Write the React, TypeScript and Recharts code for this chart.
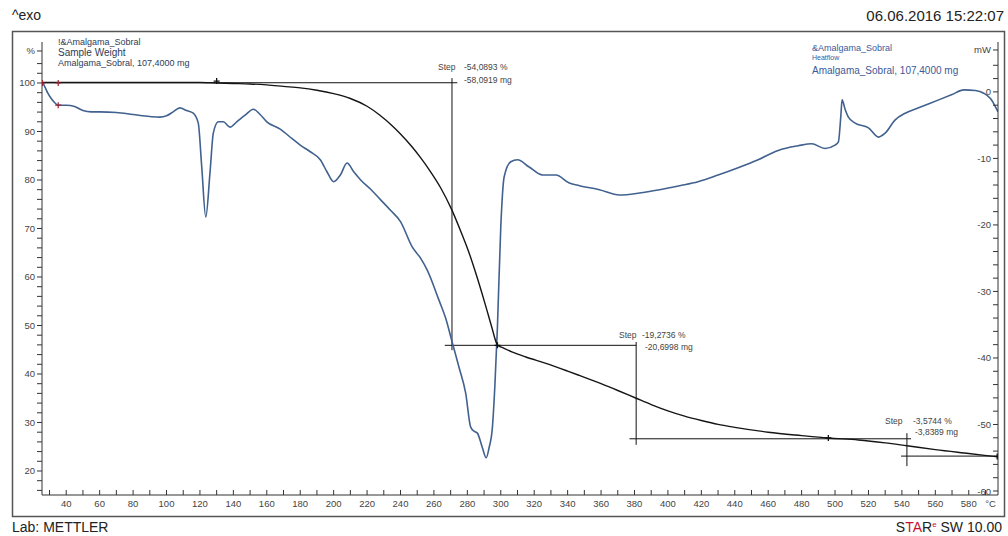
import React from 'react';
import { ComposedChart, Line, XAxis, YAxis, ReferenceLine, Scatter } from 'recharts';

// TGA sample weight (%) vs temperature (°C)
const tgaTemp = [25.5, 40, 60, 80, 100, 120, 130, 140, 150, 160, 170, 180, 190, 200, 210, 220, 227.5, 235, 240, 247, 252, 257, 264, 270.5, 277, 281, 285.5, 291, 294.5, 298, 302, 307, 315, 327, 340, 347, 360, 370, 381, 390, 400, 410, 420, 430, 440, 460, 480, 496, 514, 530, 543, 560, 580, 597.5];
const tgaWeight = [100.1, 100.1, 100.1, 100.1, 100.1, 100.1, 100.0, 99.9, 99.8, 99.6, 99.3, 99.0, 98.5, 97.8, 96.8, 95.2, 93.4, 91.2, 89.5, 86.8, 84.6, 82.2, 78.4, 74.0, 68.6, 65.0, 60.3, 54.0, 49.8, 46.0, 45.3, 44.5, 43.5, 42.2, 40.6, 39.7, 38.0, 36.6, 35.0, 33.7, 32.4, 31.3, 30.4, 29.6, 29.0, 28.0, 27.3, 26.8, 26.4, 25.8, 25.2, 24.4, 23.6, 22.9];

// DSC heat flow (mW) vs temperature (°C)
const dscTemp = [25.7, 27.5, 29, 31, 33, 35, 40, 45, 50, 55, 60, 70, 80, 90, 96, 100, 104, 108, 112, 116, 119, 121, 123.5, 126, 128, 131, 134, 138, 142, 147, 152, 156, 160, 168, 175, 180, 186, 192, 196, 200, 204, 208, 212, 216, 222, 228, 234, 240, 247, 252, 256, 263, 267, 271, 275, 279, 282, 284, 286, 289, 291.3, 293, 295, 296.5, 298, 300, 302, 306, 310, 317, 325, 333, 341, 347, 359, 371, 383, 395, 407, 418, 430, 442, 454, 466, 478, 486, 494, 500, 502, 503.5, 504.2, 506, 508, 512, 520, 526, 530, 536, 542, 550, 562, 570, 577, 584, 589, 593, 597.5];
const dscFlow = [1.5, 0.6, -0.2, -1.0, -1.6, -2.0, -2.0, -2.2, -2.8, -3.0, -3.0, -3.1, -3.4, -3.7, -3.8, -3.6, -3.0, -2.4, -2.8, -3.2, -4.7, -11, -18.8, -12.2, -6.2, -4.5, -4.5, -5.3, -4.5, -3.5, -2.6, -3.4, -4.5, -5.6, -7.0, -8.0, -9.0, -10.2, -12, -13.5, -12.5, -10.7, -12, -13.2, -14.6, -16.2, -17.8, -19.5, -23.3, -25, -26.8, -31.3, -34, -37.7, -41.4, -45.3, -50.4, -51.0, -51.3, -53.5, -55.0, -53.5, -50.4, -44, -35.3, -20.3, -12.8, -10.5, -10.2, -11.3, -12.5, -12.5, -13.7, -14.1, -14.7, -15.5, -15.2, -14.7, -14.1, -13.5, -12.5, -11.4, -10.2, -8.8, -8.1, -7.8, -8.5, -8.0, -7.5, -3.5, -1.2, -2.6, -3.8, -4.7, -5.4, -6.8, -6.2, -4.2, -3.2, -2.4, -1.2, -0.4, 0.3, 0.2, -0.2, -1.0, -3.0];

// Step evaluations (left axis, %)
const stepLevels = [100.05, 45.91, 26.64, 23.07];
const stepTemps = [270.8, 381, 543];

// Evaluation markers
const blackMarks = [{ t: 130, v: 100.4 }, { t: 298, v: 45.9 }, { t: 496, v: 26.8 }, { t: 597, v: 23.0 }];
const redMarksLeft = [{ t: 25.7, v: 100.0 }, { t: 35.2, v: 100.0 }];
const redMarksRight = [{ t: 35.2, v: -2.0 }];

// Tick values
const UNIT_TICK = 593;
const xTicks: number[] = [];
for (let t = 30; t <= 590; t += 10) xTicks.push(t);
xTicks.push(UNIT_TICK);
const leftTicks: number[] = [];
for (let v = 16; v <= 104; v += 2) leftTicks.push(v);
const PCT_TICK = 106.6;
leftTicks.push(PCT_TICK);
const rightTicks: number[] = [];
for (let v = -60; v <= 4; v += 2) rightTicks.push(v);
const MW_TICK = 6.3;
rightTicks.push(MW_TICK);

const tgaData = tgaTemp.map((t, i) => ({ t, v: tgaWeight[i] }));
const dscData = dscTemp.map((t, i) => ({ t, v: dscFlow[i] }));

const X_DOMAIN: [number, number] = [25.5, 597.5];
const L_DOMAIN: [number, number] = [15.05, 108.45];
const R_DOMAIN: [number, number] = [-60.6, 7.5];

const FONT = 'Liberation Sans, Arial, sans-serif';
const tickFont = { fontFamily: FONT, fontSize: 9.5, fill: '#444' };

const cross = (color: string, size: number, width: number) => (p: any) => (
  <path d={`M${p.cx - size},${p.cy}H${p.cx + size}M${p.cx},${p.cy - size}V${p.cy + size}`} stroke={color} strokeWidth={width} fill="none" />
);

const XTick = (p: any) => {
  const v = p.payload.value;
  const label = v === UNIT_TICK ? '°C' : v % 20 === 0 ? String(v) : '';
  return (
    <g>
      {v !== UNIT_TICK && <line x1={p.x} y1={p.y} x2={p.x} y2={p.y - 5} stroke="#333" />}
      {label && <text x={p.x} y={p.y + 12} textAnchor="middle" fontFamily={FONT} fontSize={9.5} fill="#444">{label}</text>}
    </g>
  );
};

const RTick = (p: any) => {
  const v = p.payload.value;
  const label = v === MW_TICK ? 'mW' : v % 10 === 0 ? String(v) : '';
  return (
    <g>
      <line x1={p.x} y1={p.y} x2={p.x - 5} y2={p.y} stroke="#333" />
      {label && <text x={p.x - 7} y={p.y + 3.5} textAnchor="end" fontFamily={FONT} fontSize={9.5} fill="#444">{label}</text>}
    </g>
  );
};

export default function App() {
  const seg = (x1: number, y1: number, x2: number, y2: number, k: string) => (
    <ReferenceLine key={k} xAxisId="x" yAxisId="left" segment={[{ x: x1, y: y1 }, { x: x2, y: y2 }]} stroke="#111" strokeWidth={1} ifOverflow="visible" />
  );
  return (
    <div style={{ position: 'absolute', left: 0, top: 0, width: 1008, height: 536, background: '#fff' }}>
      <ComposedChart width={1008} height={536} margin={{ top: 42, left: 12, right: 0, bottom: 11 }}>
        <XAxis xAxisId="x" type="number" dataKey="t" domain={X_DOMAIN} allowDataOverflow ticks={xTicks} interval={0}
          height={30} tickSize={0} tickMargin={0} tickLine={false} axisLine={{ stroke: '#333' }} tick={<XTick />} />
        <YAxis yAxisId="left" type="number" domain={L_DOMAIN} allowDataOverflow ticks={leftTicks} interval={0}
          width={30} tickSize={5} tickMargin={2} axisLine={{ stroke: '#333' }} tickLine={{ stroke: '#333' }}
          tick={tickFont} tickFormatter={(v: number) => (v === PCT_TICK ? '%' : v % 10 === 0 ? String(v) : '')} />
        <YAxis yAxisId="right" orientation="right" type="number" domain={R_DOMAIN} allowDataOverflow ticks={rightTicks} interval={0}
          width={10} tickSize={0} tickMargin={0} tickLine={false} axisLine={{ stroke: '#333' }} tick={<RTick />} />

        {seg(X_DOMAIN[0], stepLevels[0], 274, stepLevels[0], 's1h')}
        {seg(stepTemps[0], 101.0, stepTemps[0], 44.9, 's1v')}
        {seg(266.5, stepLevels[1], stepTemps[1], stepLevels[1], 's2h')}
        {seg(stepTemps[1], 46.6, stepTemps[1], 25.4, 's2v')}
        {seg(377, stepLevels[2], 545.5, stepLevels[2], 's3h')}
        {seg(stepTemps[2], 27.8, stepTemps[2], 21.0, 's3v')}
        {seg(539.5, stepLevels[3], X_DOMAIN[1], stepLevels[3], 's4h')}

        <Line xAxisId="x" yAxisId="right" data={dscData} dataKey="v" type="monotone" dot={false} stroke="#41618f" strokeWidth={1.6} isAnimationActive={false} />
        <Line xAxisId="x" yAxisId="left" data={tgaData} dataKey="v" type="monotone" dot={false} stroke="#151515" strokeWidth={1.4} isAnimationActive={false} />
        <Scatter xAxisId="x" yAxisId="left" data={blackMarks} dataKey="v" shape={cross('#111', 3, 1.3)} isAnimationActive={false} />
        <Scatter xAxisId="x" yAxisId="left" data={redMarksLeft} dataKey="v" shape={cross('#9b2335', 3, 1.2)} isAnimationActive={false} />
        <Scatter xAxisId="x" yAxisId="right" data={redMarksRight} dataKey="v" shape={cross('#9b2335', 3, 1.2)} isAnimationActive={false} />
      </ComposedChart>
      <svg width={1008} height={536} style={{ position: 'absolute', left: 0, top: 0, pointerEvents: 'none' }}>
        <rect x={12.5} y={31.5} width={992} height={485} fill="none" stroke="#555" strokeWidth={1.5} />
        <text x={12} y={20} fontFamily={FONT} fontSize={14} fill="#222">^exo</text>
        <text x={1004} y={21} fontFamily={FONT} fontSize={15} fill="#222" textAnchor="end">06.06.2016 15:22:07</text>
        <text x={12} y={532} fontFamily={FONT} fontSize={14} fill="#222">Lab: METTLER</text>
        <text x={1002} y={532} fontFamily={FONT} fontSize={14} fill="#222" textAnchor="end">
          <tspan>S</tspan><tspan fill="#c8102e">TA</tspan><tspan>R</tspan><tspan fill="#c8102e" fontSize={8} dy={-5}>e</tspan><tspan dy={5}> SW 10.00</tspan>
        </text>
        <g fontFamily={FONT} fill="#2f3b57">
          <text x={58} y={45} fontSize={9}>!&amp;Amalgama_Sobral</text>
          <text x={58} y={56} fontSize={10}>Sample Weight</text>
          <text x={58} y={66} fontSize={9}>Amalgama_Sobral, 107,4000 mg</text>
        </g>
        <g fontFamily={FONT} fill="#3a5a9a">
          <text x={812} y={51} fontSize={9}>&amp;Amalgama_Sobral</text>
          <text x={812} y={60} fontSize={7}>Heatflow</text>
          <text x={812} y={74} fontSize={10}>Amalgama_Sobral, 107,4000 mg</text>
        </g>
        <g fontFamily={FONT} fill="#444" fontSize={8.5}>
          <text x={438} y={70}>Step</text>
          <text x={464} y={70}>-54,0893 %</text>
          <text x={464} y={83}>-58,0919 mg</text>
          <text x={619} y={338}>Step</text>
          <text x={642} y={338}>-19,2736 %</text>
          <text x={645} y={350}>-20,6998 mg</text>
          <text x={885} y={424}>Step</text>
          <text x={913} y={424}>-3,5744 %</text>
          <text x={915} y={435}>-3,8389 mg</text>
        </g>
      </svg>
    </div>
  );
}
